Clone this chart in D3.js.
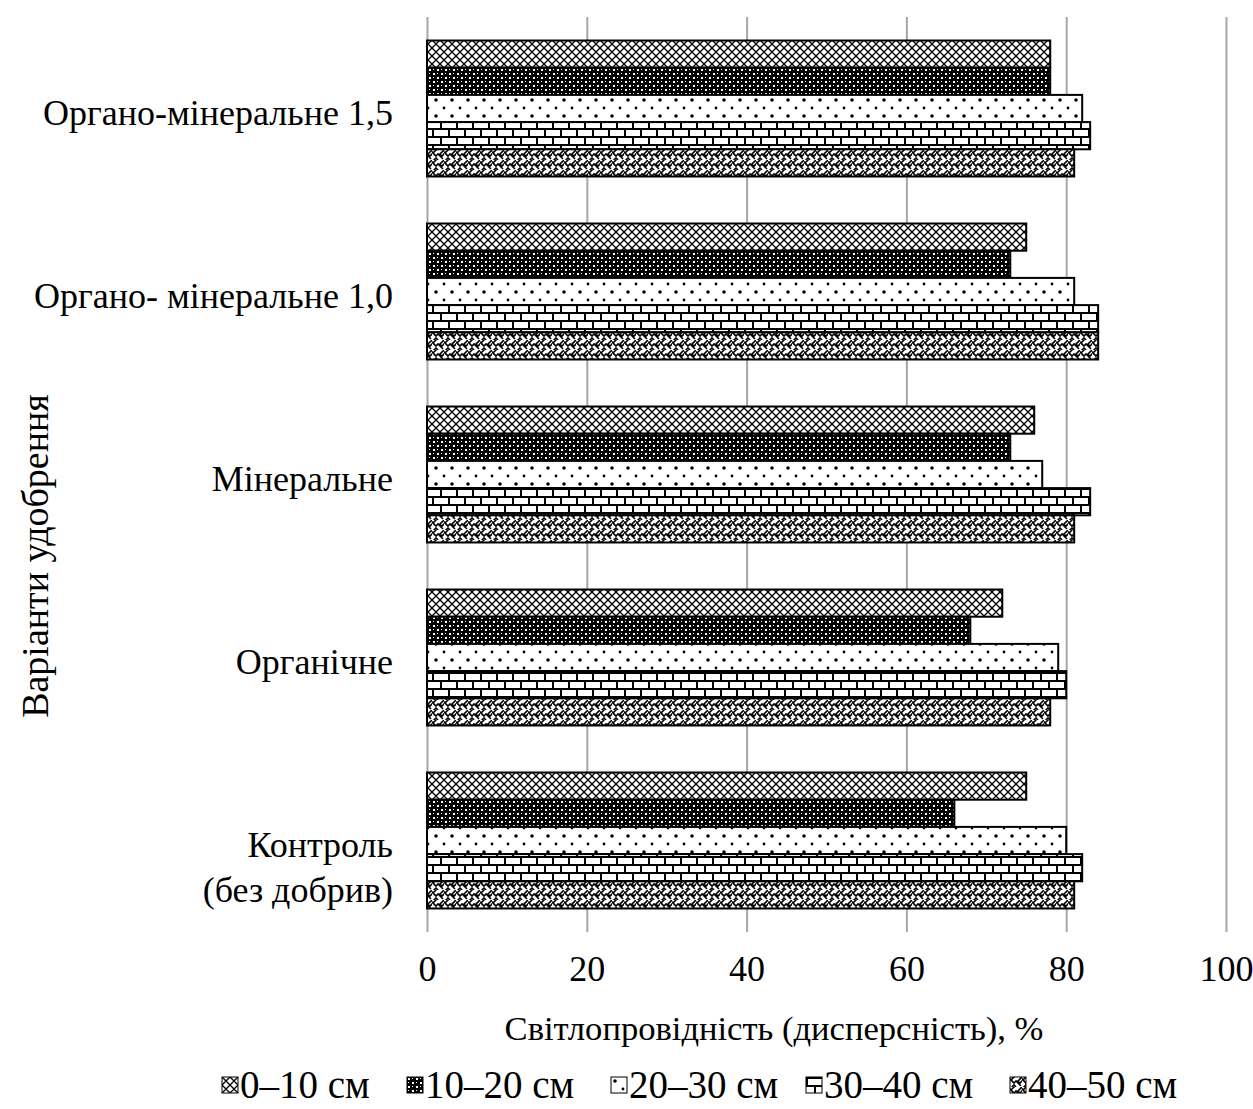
<!DOCTYPE html>
<html><head><meta charset="utf-8">
<script src="https://cdn.jsdelivr.net/npm/d3@7"></script>
<style>
body{margin:0;background:#fff}
svg{display:block}
text{font-family:"Liberation Serif","Times New Roman",serif;fill:#000}
</style></head>
<body><svg id="c" width="1253" height="1109"></svg>
<script>
// ---- data ----
const categories = ["Органо-мінеральне 1,5", "Органо- мінеральне 1,0", "Мінеральне", "Органічне", "Контроль (без добрив)"];
const categoryLines = [["Органо-мінеральне 1,5"], ["Органо- мінеральне 1,0"], ["Мінеральне"], ["Органічне"], ["Контроль", "(без добрив)"]];
const seriesNames = ["0–10 см", "10–20 см", "20–30 см", "30–40 см", "40–50 см"];
const v0_10  = [78, 75, 76, 72, 75];
const v10_20 = [78, 73, 73, 68, 66];
const v20_30 = [82, 81, 77, 79, 80];
const v30_40 = [83, 84, 83, 80, 82];
const v40_50 = [81, 84, 81, 78, 81];
const xTicks = [0, 20, 40, 60, 80, 100];
const xTitle = "Світлопровідність (дисперсність), %";
const yTitle = "Варіанти удобрення";

const seriesValues = [v0_10, v10_20, v20_30, v30_40, v40_50];
const patternIds = ["p1", "p2", "p3", "p4", "p5"];

const svg = d3.select("#c");
const FS = 36;

// ---- patterns ----
const defs = svg.append("defs");
function pat(id, w, h, bg) {
  const p = defs.append("pattern").attr("id", id).attr("patternUnits", "userSpaceOnUse")
    .attr("width", w).attr("height", h);
  p.append("rect").attr("width", w).attr("height", h).attr("fill", bg);
  return p;
}
// p1: diamond lattice
{
  const p = pat("p1", 8, 8, "#fff");
  p.append("path").attr("d", "M0,0 L8,8 M8,0 L0,8 M-4,4 L4,-4 M4,12 L12,4 M-4,4 L4,12 M4,-4 L12,4")
    .attr("stroke", "#000").attr("stroke-width", 1.35).attr("fill", "none");
  p.append("rect").attr("x", 3.5).attr("y", 3.5).attr("width", 1).attr("height", 1).attr("fill", "#000");
}
// p2: black with white dots
{
  const p = pat("p2", 8, 8, "#000");
  p.append("rect").attr("x", 1).attr("y", 1).attr("width", 2).attr("height", 2).attr("fill", "#fff");
  p.append("rect").attr("x", 5).attr("y", 5).attr("width", 2).attr("height", 2).attr("fill", "#fff");
  p.append("rect").attr("x", 5).attr("y", 1).attr("width", 1).attr("height", 1).attr("fill", "#fff");
  p.append("rect").attr("x", 1).attr("y", 5).attr("width", 1).attr("height", 1).attr("fill", "#fff");
}
// p3: sparse dots
{
  const p = pat("p3", 16, 16, "#fff");
  p.append("circle").attr("cx", 4).attr("cy", 4).attr("r", 1.8).attr("fill", "#000");
  p.append("circle").attr("cx", 12).attr("cy", 12).attr("r", 1.4).attr("fill", "#000");
}
// p4: bricks
{
  const p = pat("p4", 16, 16, "#fff");
  p.append("rect").attr("x", 0).attr("y", 0).attr("width", 16).attr("height", 2).attr("fill", "#000");
  p.append("rect").attr("x", 0).attr("y", 8).attr("width", 16).attr("height", 2).attr("fill", "#000");
  p.append("rect").attr("x", 0).attr("y", 0).attr("width", 2).attr("height", 8).attr("fill", "#000");
  p.append("rect").attr("x", 8).attr("y", 8).attr("width", 2).attr("height", 8).attr("fill", "#000");
}
// p5: weave / zigzag
{
  const p = pat("p5", 12, 10, "#fff");
  p.append("path").attr("d", "M-1,1 L4,6 L6,4 L11,9 M5,-1 L1,3 M13,-1 L8,4 L10,6 L13,3 M1,11 L4,8 L6,10")
    .attr("stroke", "#000").attr("stroke-width", 1.6).attr("fill", "none");
}

// ---- scales ----
const x = d3.scaleLinear().domain([0, 100]).range([427, 1226]);
const y = d3.scaleBand().domain(categories).range([17, 932]).paddingInner(0.257).paddingOuter(0.1285);
const ys = d3.scaleBand().domain(seriesNames).range([0, y.bandwidth()]);

// gridlines
const grid = svg.append("g").attr("transform", "translate(0,932)")
  .call(d3.axisBottom(x).tickValues(xTicks).tickSize(-915).tickFormat(""));
grid.select(".domain").remove();
grid.selectAll("line").attr("stroke", "#a6a6a6").attr("stroke-width", 2);

// bars
categories.forEach((c, ci) => {
  seriesNames.forEach((s, si) => {
    const val = seriesValues[si][ci];
    svg.append("rect")
      .attr("x", x(0)).attr("y", y(c) + ys(s))
      .attr("width", x(val) - x(0)).attr("height", ys.bandwidth())
      .attr("fill", "url(#" + patternIds[si] + ")")
      .attr("stroke", "#000").attr("stroke-width", 2);
  });
});

// x tick labels
const xa = svg.append("g").attr("transform", "translate(0,955)")
  .call(d3.axisBottom(x).tickValues(xTicks).tickSize(0).tickFormat(d3.format("d")));
xa.select(".domain").remove();
xa.selectAll("text").attr("font-size", FS).attr("dy", "0.71em").attr("y", 0);

// category labels
categories.forEach((c, ci) => {
  const cy = y(c) + y.bandwidth() / 2;
  const t = svg.append("text").attr("text-anchor", "end").attr("font-size", FS).attr("x", 393);
  categoryLines[ci].forEach((ln, li) => {
    t.append("tspan").attr("x", 393).attr("y", cy + 16 + li * 45).text(ln);
  });
});

// axis titles
svg.append("text").attr("x", 774).attr("y", 1040).attr("text-anchor", "middle").attr("font-size", 34.6).text(xTitle);
svg.append("text").attr("transform", "translate(48,556) rotate(-90)").attr("text-anchor", "middle").attr("font-size", 38).text(yTitle);

// legend
const legendX = [222, 407, 611, 806, 1010];
seriesNames.forEach((s, si) => {
  const g = svg.append("g").attr("transform", `translate(${legendX[si]},1077)`);
  g.append("rect").attr("x", 0).attr("y", 0).attr("width", 16).attr("height", 16)
    .attr("fill", "url(#" + patternIds[si] + ")").attr("stroke", "#000").attr("stroke-width", 1);
  g.append("text").attr("x", 18).attr("y", 21).attr("font-size", 39).text(s);
});
</script></body></html>
